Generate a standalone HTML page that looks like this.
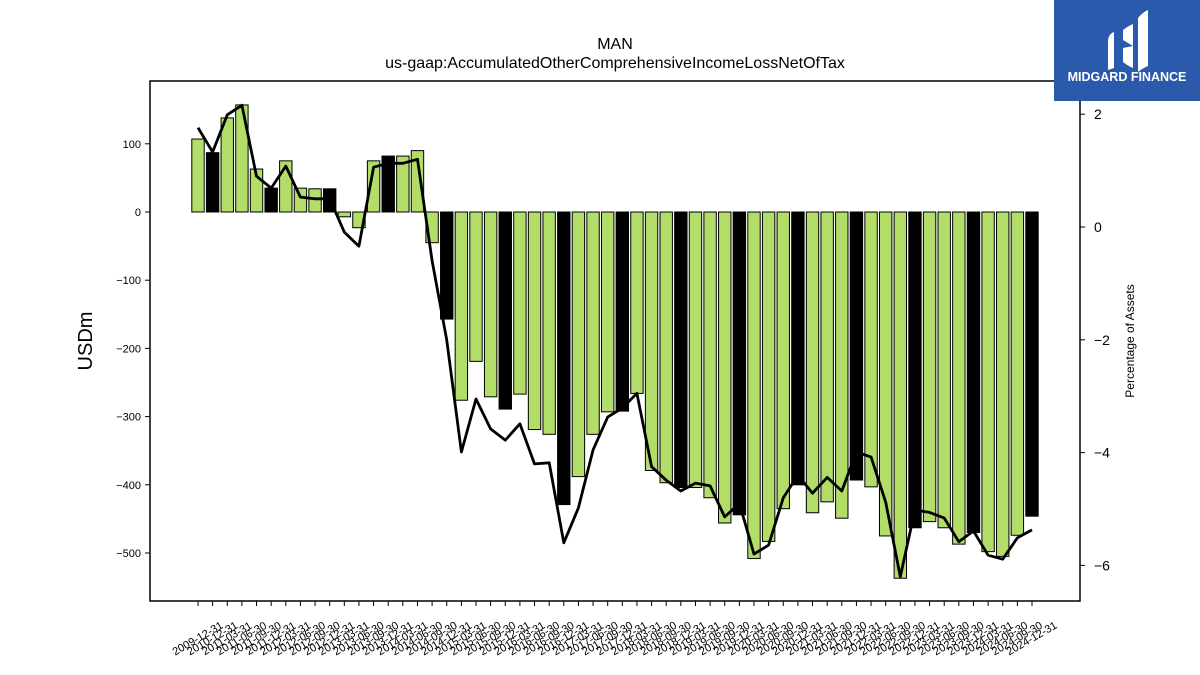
<!DOCTYPE html>
<html><head><meta charset="utf-8"><style>
body{margin:0;background:#fff;}
svg{display:block;font-family:"Liberation Sans","DejaVu Sans",sans-serif;}
</style></head><body>
<svg id="chart" width="1200" height="675" viewBox="0 0 1200 675" xmlns="http://www.w3.org/2000/svg">
<rect width="1200" height="675" fill="#fff"/>
<text x="615" y="49" font-size="16" text-anchor="middle">MAN</text>
<text x="615" y="68" font-size="16" text-anchor="middle">us-gaap:AccumulatedOtherComprehensiveIncomeLossNetOfTax</text>
<g id="bars"></g>
<g id="line"></g>
<rect x="150" y="81" width="930" height="520" fill="none" stroke="#000" stroke-width="1.5"/>
<g id="yleft"></g>
<g id="yright"></g>
<g id="xaxis"></g>
<text transform="translate(92,341) rotate(-90)" font-size="20" text-anchor="middle">USDm</text>
<text transform="translate(1134,341) rotate(-90)" font-size="12" text-anchor="middle">Percentage of Assets</text>
<g>
<rect x="1054" y="0" width="146" height="101" fill="#2b5aad"/>
<path d="M1108 42 q0-8 6-10 l0 36 q-6 2-6 2 z M1123 30 q5-4 10-6 l0 22 l-10 -6 z M1123 48 l10 -2 l0 22 q-5 -2 -10 -6 z M1138 18 q5-6 10-8 l0 56 q-5 2-10 6 z" fill="#fff"/>
<text x="1127" y="81" font-size="12.5" font-weight="bold" fill="#fff" text-anchor="middle">MIDGARD FINANCE</text>
</g>
</svg>
<script>
const categories = [];
const usdValues = [107,87,138,157,63,35,75,35,34,34,-7,-23,75,82,82,90,-45,-157,-276,-219,-271,-289,-267,-319,-326,-429,-388,-326,-293,-292,-266,-379,-397,-404,-404,-419,-456,-444,-508,-483,-435,-400,-441,-425,-449,-393,-403,-475,-537,-463,-454,-463,-487,-470,-498,-505,-474,-446];
const pctValues = [1.76,1.33,1.99,2.16,0.90,0.69,1.08,0.53,0.50,0.50,-0.09,-0.34,1.06,1.13,1.13,1.20,-0.6,-2.0,-3.99,-3.05,-3.58,-3.78,-3.49,-4.2,-4.18,-5.6,-4.98,-3.95,-3.37,-3.21,-2.95,-4.25,-4.49,-4.68,-4.54,-4.59,-5.14,-4.9,-5.8,-5.64,-4.8,-4.4,-4.72,-4.44,-4.68,-3.99,-4.08,-4.88,-6.2,-5.02,-5.06,-5.16,-5.58,-5.39,-5.82,-5.89,-5.51,-5.37];
const leftTicks = [100,0,-100,-200,-300,-400,-500];
const rightTicks = [2,0,-2,-4,-6];
categories.push('2009-12-31','2010-12-31');
for(let y=2011;y<=2024;y++){for(const m of ['03-31','06-30','09-30','12-31'])categories.push(y+'-'+m);}

const NS='http://www.w3.org/2000/svg';
const x0=198, step=(1032-198)/57, bw=12.4;
const xPos=i=>x0+i*step;
const yL=v=>212-v*0.682;
const yR=v=>227-v*56.4;
function mk(t,a){const e=document.createElementNS(NS,t);for(const k in a)e.setAttribute(k,a[k]);return e;}
const bars=document.getElementById('bars');
usdValues.forEach((v,i)=>{
  const black = i%4===1;
  const y1=yL(Math.max(v,0)), y2=yL(Math.min(v,0));
  const r=mk('rect',{x:xPos(i)-bw/2,y:y1,width:bw,height:Math.max(y2-y1,0.5),fill:black?'#000':'#b2dd68',stroke:'#000','stroke-width':1});
  
  
  bars.appendChild(r);
});
const pts=pctValues.map((v,i)=>xPos(i).toFixed(1)+','+yR(v).toFixed(1)).join(' ');
const pl=mk('polyline',{points:pts,fill:'none',stroke:'#000','stroke-width':2.8,'stroke-linejoin':'round'});


document.getElementById('line').appendChild(pl);
const yl=document.getElementById('yleft');
leftTicks.forEach(t=>{
  const y=yL(t);
  const l=mk('line',{x1:145,x2:150,y1:y,y2:y,stroke:'#000','stroke-width':1});
  
  
  yl.appendChild(l);
  const tx=mk('text',{x:141,y:y+4,'font-size':11,'text-anchor':'end'});
  
  
  tx.textContent=(t<0?'\u2212'+(-t):t);
  yl.appendChild(tx);
});
const yr=document.getElementById('yright');
rightTicks.forEach(t=>{
  const y=yR(t);
  const l=mk('line',{x1:1080,x2:1085,y1:y,y2:y,stroke:'#000','stroke-width':1});
  
  
  yr.appendChild(l);
  const tx=mk('text',{x:1094,y:y+5,'font-size':14});
  
  
  tx.textContent=(t<0?'\u2212'+(-t):t);
  yr.appendChild(tx);
});
const xa=document.getElementById('xaxis');
categories.forEach((c,i)=>{
  const x=xPos(i);
  const l=mk('line',{x1:x,x2:x,y1:601,y2:606,stroke:'#000','stroke-width':1});
  
  
  xa.appendChild(l);
  const tx=mk('text',{transform:'translate('+x+',639) rotate(-30)','font-size':11,'text-anchor':'middle','dominant-baseline':'middle'});
  
  
  tx.textContent=c;
  xa.appendChild(tx);
});
</script>
</body></html>
